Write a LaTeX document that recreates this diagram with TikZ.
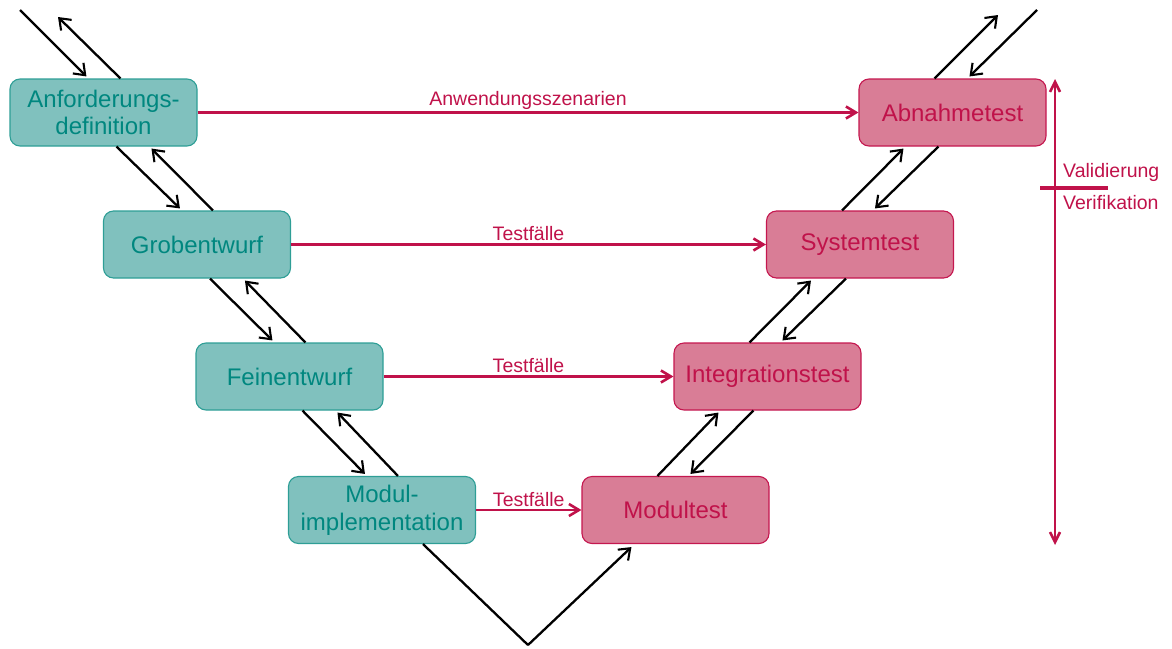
\documentclass[tikz,border=0pt]{standalone}
\usepackage{fontspec}
\setmainfont{Liberation Sans}
\usetikzlibrary{arrows.meta}

\definecolor{tealfill}{HTML}{80C1BE}
\definecolor{tealline}{HTML}{2E9E96}
\definecolor{tealtext}{HTML}{00877F}
\definecolor{pinkfill}{HTML}{D97D96}
\definecolor{pinkline}{HTML}{C4174F}
\definecolor{crimson}{HTML}{C0124A}

\tikzset{
  phase/.style={rounded corners=10pt, minimum width=187pt, minimum height=67pt,
    inner sep=0pt, align=center, line width=1.1pt,
    font=\fontsize{24}{27.6}\selectfont},
  specbox/.style={phase, draw=tealline, fill=tealfill, text=tealtext},
  testbox/.style={phase, draw=pinkline, fill=pinkfill, text=crimson},
  flow/.style={black, line width=2.3pt,
    -{Straight Barb[length=10pt,width=15pt,line width=2.1pt]}},
  plain/.style={black, line width=2.3pt},
  testlink/.style={crimson, line width=2.8pt,
    -{Straight Barb[length=10pt,width=12pt,line width=2.6pt]}},
  linklabel/.style={midway, above=1pt, text=crimson, inner sep=1pt,
    font=\fontsize{19.5}{22}\selectfont},
  vvscale/.style={crimson, line width=2.8pt,
    {Straight Barb[length=10pt,width=10pt,line width=2.6pt]}-{Straight Barb[length=10pt,width=10pt,line width=2.6pt]}},
  scalelabel/.style={anchor=west, text=crimson, inner sep=0pt,
    font=\fontsize{19.5}{22}\selectfont}
}

\begin{document}
\begin{tikzpicture}[x=1pt, y=-1pt]
\useasboundingbox (0,0) rectangle (1172,648);

% development phases (left branch)
\node[specbox] (anf)  at (103.5,112.5) {Anforderungs-\\definition};
\node[specbox] (grob) at (197,244.5)   {Grobentwurf};
\node[specbox] (fein) at (289.5,376.5) {Feinentwurf};
\node[specbox] (mod)  at (382,510)     {Modul-\\implementation};

% test phases (right branch)
\node[testbox] (abn)  at (952.5,112.5) {Abnahmetest};
\node[testbox] (sys)  at (860,244.5)   {Systemtest};
\node[testbox] (intg) at (767.5,376.5) {Integrationstest};
\node[testbox] (mt)   at (675.5,510)   {Modultest};

% free ends of the branches
\coordinate (tl1) at (20,10);
\coordinate (tl2) at (58,17);
\coordinate (tr1) at (998,15);
\coordinate (tr2) at (1037,10);
\coordinate (vb)  at (528,645);

% left branch: descent and feedback
\draw[flow] (tl1) -- ([xshift=77pt,yshift=2pt]anf.north west);
\draw[flow] ([xshift=111pt]anf.north west) -- (tl2);
\foreach \u/\l in {anf/grob, grob/fein, fein/mod}{
  \draw[flow] ([xshift=107pt]\u.south west) -- ([xshift=77pt,yshift=2pt]\l.north west);
  \draw[flow] ([xshift=110pt]\l.north west) -- ([xshift=142pt,yshift=-2pt]\u.south west);
}

% bottom of the V
\draw[plain] ([xshift=135pt]mod.south west) -- (vb);
\draw[flow] (vb) -- ([xshift=50pt,yshift=-3pt]mt.south west);

% right branch: ascent and feedback
\foreach \l/\u in {mt/intg, intg/sys, sys/abn}{
  \draw[flow] ([xshift=76pt]\l.north west) -- ([xshift=45pt,yshift=-2pt]\u.south west);
  \draw[flow] ([xshift=80pt]\u.south west) -- ([xshift=109pt,yshift=2pt]\l.north west);
}
\draw[flow] ([xshift=76pt]abn.north west) -- (tr1);
\draw[flow] (tr2) -- ([xshift=111pt,yshift=2pt]abn.north west);

% test cases derived from each phase
\draw[testlink] (anf.east)  -- (abn.west)  node[linklabel] {Anwendungsszenarien};
\draw[testlink] (grob.east) -- (sys.west)  node[linklabel] {Testfälle};
\draw[testlink] (fein.east) -- (intg.west) node[linklabel] {Testfälle};
\draw[testlink] (mod.east)  -- (mt.west)   node[linklabel] {Testfälle};

% validation / verification scale
\coordinate (vtop) at (1055,79);
\coordinate (vbot) at (1055,545);
\coordinate (tickl) at (1040,188);
\coordinate (tickr) at (1108,188);
\draw[vvscale] (vtop) -- (vbot);
\draw[crimson, line width=3.6pt] (tickl) -- (tickr);
\node[scalelabel] (val) at (1063,172) {Validierung};
\node[scalelabel] (ver) at (1063,203) {Verifikation};
\end{tikzpicture}
\end{document}
